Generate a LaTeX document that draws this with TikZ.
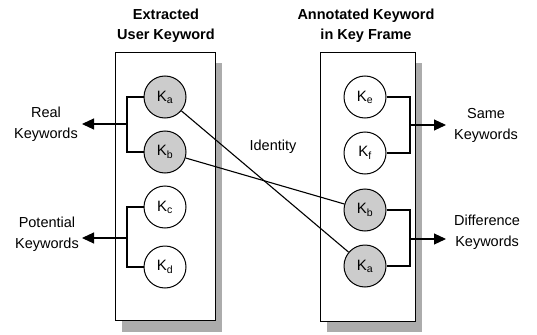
\documentclass[tikz,border=0pt]{standalone}
\usepackage{fontspec}
\setmainfont{Liberation Sans}
\usetikzlibrary{arrows.meta}
\begin{document}
\begin{tikzpicture}[x=1pt,y=-1pt,
  kw/.style={circle,draw,line width=1pt,minimum size=42pt,inner sep=0pt,fill=white,font=\fontsize{15}{16}\selectfont},
  shaded/.style={fill=gray!40},
  panel/.style={draw,line width=1pt,fill=white},
  shadow/.style={fill=gray!65,draw=none},
  title/.style={font=\bfseries\fontsize{14.5}{20}\selectfont,align=center},
  lab/.style={font=\fontsize{14.5}{21}\selectfont,align=center},
  conn/.style={line width=1.1pt},
  outarrow/.style={line width=1.1pt,-{Triangle[length=12pt,width=11pt]}}]
\useasboundingbox (0,0) rectangle (537,334);
% shadows
\fill[shadow] (122,63) rectangle (222,332);
\fill[shadow] (327,63) rectangle (422,332);
% panels
\draw[panel] (115,53) rectangle (215,320);
\draw[panel] (320,53) rectangle (415,321);
% titles
\node[title] (t1) at (166,26) {Extracted\\User Keyword};
\node[title] (t2) at (366,26) {Annotated Keyword\\in Key Frame};
% left circles
\node[kw,shaded] (ka) at (165,97) {K\textsubscript{a}};
\node[kw,shaded] (kb) at (165,152) {K\textsubscript{b}};
\node[kw] (kc) at (165,207) {K\textsubscript{c}};
\node[kw] (kd) at (165,267) {K\textsubscript{d}};
% right circles
\node[kw] (ke) at (365,97) {K\textsubscript{e}};
\node[kw] (kf) at (365,153) {K\textsubscript{f}};
\node[kw,shaded] (kb2) at (365,210) {K\textsubscript{b}};
\node[kw,shaded] (ka2) at (365,266) {K\textsubscript{a}};
% brackets
\coordinate (bl1) at (127,124);
\coordinate (bl2) at (127,238);
\coordinate (br1) at (410,125);
\coordinate (br2) at (410,239);
\draw[conn] (ka.west) -| (bl1) |- (kb.west);
\draw[conn] (kc.west) -| (bl2) |- (kd.west);
\draw[conn] (ke.east) -| (br1) |- (kf.east);
\draw[conn] (kb2.east) -| (br2) |- (ka2.east);
% outputs
\coordinate (al1) at (82,124);
\coordinate (al2) at (82,238);
\coordinate (ar1) at (446,125);
\coordinate (ar2) at (446,239);
\draw[outarrow] (bl1) -- (al1);
\draw[outarrow] (bl2) -- (al2);
\draw[outarrow] (br1) -- (ar1);
\draw[outarrow] (br2) -- (ar2);
\node[lab,anchor=east,inner sep=0pt] (l1) at ([xshift=-4pt,yshift=0pt]al1) {Real\\Keywords};
\node[lab,anchor=east,inner sep=0pt] (l2) at ([xshift=-3pt,yshift=4pt]al2) {Potential\\Keywords};
\node[lab,anchor=west,inner sep=0pt] (l3) at ([xshift=8pt,yshift=0pt]ar1) {Same\\Keywords};
\node[lab,anchor=west,inner sep=0pt] (l4) at ([xshift=8pt,yshift=7pt]ar2) {Difference\\Keywords};
% identity lines
\draw[conn] (ka) -- (ka2);
\draw[conn] (kb) -- (kb2);
\node[lab] (id) at (273,147) {Identity};
\end{tikzpicture}
\end{document}
